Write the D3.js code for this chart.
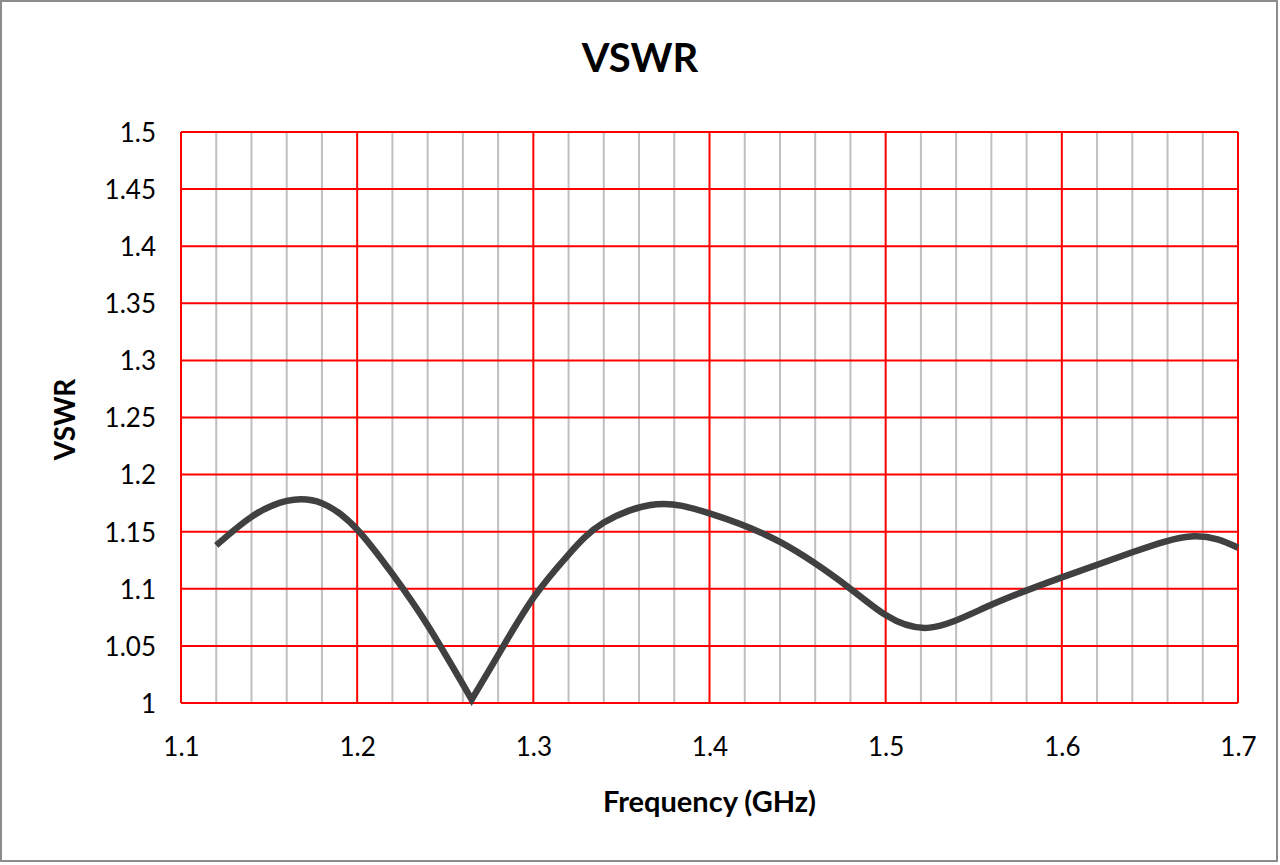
<!DOCTYPE html>
<html>
<head>
<meta charset="utf-8">
<script src="https://cdn.jsdelivr.net/npm/d3@7/dist/d3.min.js"></script>
<style>
  html, body { margin: 0; padding: 0; background: #fff; }
  svg { display: block; }
  text { font-family: Lato, "Open Sans", sans-serif; fill: #000; }
</style>
</head>
<body>
<svg id="chart" width="1280" height="865"></svg>
<script>
const title = "VSWR";
const xLabel = "Frequency (GHz)";
const yLabel = "VSWR";
const xTicks = [1.1, 1.2, 1.3, 1.4, 1.5, 1.6, 1.7];
const yTicks = [1, 1.05, 1.1, 1.15, 1.2, 1.25, 1.3, 1.35, 1.4, 1.45, 1.5];
const frequency = [1.12,1.14,1.16,1.18,1.2,1.22,1.24,1.265,1.28,1.3,1.32,1.34,1.37,1.4,1.44,1.48,1.5,1.525,1.56,1.6,1.64,1.675,1.7];
const vswr = [1.138,1.163,1.177,1.175,1.152,1.113,1.068,1.003,1.042,1.092,1.130,1.158,1.174,1.166,1.141,1.100,1.077,1.066,1.086,1.110,1.132,1.146,1.136];

const W = 1280, H = 865;
const m = {left: 181, right: 42, top: 132, bottom: 162};
const svg = d3.select("#chart");

svg.append("rect").attr("x", 1).attr("y", 1).attr("width", W - 4).attr("height", H - 5)
  .attr("fill", "#fff").attr("stroke", "#8c8c8c").attr("stroke-width", 2);

const x = d3.scaleLinear().domain([1.1, 1.7]).range([m.left, W - m.right]);
const y = d3.scaleLinear().domain([1, 1.5]).range([H - m.bottom, m.top]);

const g = svg.append("g");
const minor = d3.range(0, 31).map(i => 1.1 + i * 0.02).filter((v, i) => i % 5 !== 0);
g.selectAll(".minor").data(minor).join("line")
  .attr("x1", d => x(d)).attr("x2", d => x(d))
  .attr("y1", y(1.5)).attr("y2", y(1))
  .attr("stroke", "#bfbfbf").attr("stroke-width", 2);
g.selectAll(".hmaj").data(yTicks).join("line")
  .attr("x1", x(1.1)).attr("x2", x(1.7))
  .attr("y1", d => y(d)).attr("y2", d => y(d))
  .attr("stroke", "#ff0000").attr("stroke-width", 2);
g.selectAll(".vmaj").data(xTicks).join("line")
  .attr("x1", d => x(d)).attr("x2", d => x(d))
  .attr("y1", y(1.5)).attr("y2", y(1))
  .attr("stroke", "#ff0000").attr("stroke-width", 2);

const xAxis = d3.axisBottom(x).tickValues(xTicks).tickSize(0).tickPadding(0).tickFormat(d3.format(""));
const xa = svg.append("g").attr("transform", `translate(0,${H - m.bottom})`).call(xAxis);
xa.select(".domain").remove();
xa.selectAll("text").attr("y", 0).attr("dy", "53").attr("font-size", 26).attr("font-family", "Lato, sans-serif").attr("fill", "#000");

const yAxis = d3.axisLeft(y).tickValues(yTicks).tickSize(0).tickPadding(0).tickFormat(d3.format(""));
const ya = svg.append("g").attr("transform", `translate(${m.left - 25},0)`).call(yAxis);
ya.select(".domain").remove();
ya.selectAll("text").attr("x", 0).attr("dy", "0.36em").attr("font-size", 26).attr("font-family", "Lato, sans-serif").attr("fill", "#000");

// line: smooth spline, sharp at the matched-frequency minimum
const data = frequency.map((f, i) => [f, vswr[i]]);
const vi = d3.minIndex(vswr);
const line = d3.line().x(d => x(d[0])).y(d => y(d[1])).curve(d3.curveNatural);
const dLeft = line(data.slice(0, vi + 1));
const dRight = line(data.slice(vi)).replace(/^M/, "L");
svg.append("path").attr("d", dLeft + dRight)
  .attr("fill", "none").attr("stroke", "#404040").attr("stroke-width", 6.5)
  .attr("stroke-linejoin", "miter").attr("stroke-miterlimit", 4).attr("stroke-linecap", "butt");

svg.append("text").attr("x", 640).attr("y", 72).attr("text-anchor", "middle")
  .attr("font-size", 40).attr("font-weight", "bold").text(title);
svg.append("text").attr("x", x(1.4)).attr("y", 812).attr("text-anchor", "middle")
  .attr("font-size", 29).attr("font-weight", "bold").text(xLabel);
svg.append("text").attr("transform", `translate(75,${(y(1) + y(1.5)) / 2 + 2}) rotate(-90)`)
  .attr("text-anchor", "middle").attr("font-size", 28).attr("font-weight", "bold").text(yLabel);
</script>
</body>
</html>
